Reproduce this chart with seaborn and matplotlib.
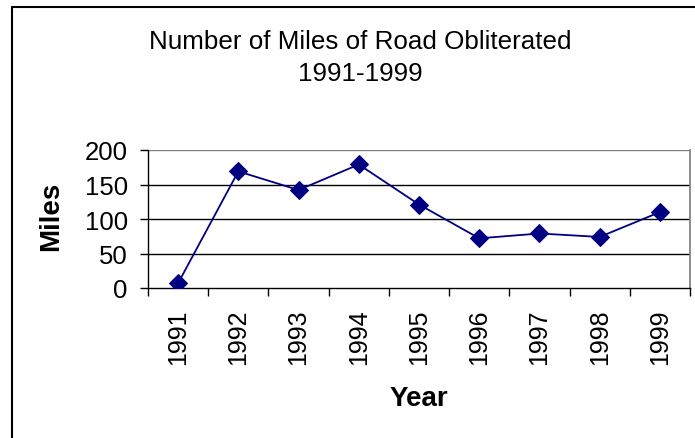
import matplotlib
matplotlib.use("Agg")
import matplotlib.pyplot as plt
import seaborn as sns
import pandas as pd
from matplotlib.ticker import FixedLocator, NullFormatter, FixedFormatter
from matplotlib.lines import Line2D

years = ["1991", "1992", "1993", "1994", "1995", "1996", "1997", "1998", "1999"]
miles = [7, 169, 142, 179, 121, 72, 79, 74, 110]
y_ticks = [0, 50, 100, 150, 200]

sns.set_theme(style="white")
plt.rcParams['font.family'] = ['Liberation Sans', 'DejaVu Sans']
plt.rcParams['text.color'] = 'black'
plt.rcParams['axes.labelcolor'] = 'black'
plt.rcParams['xtick.color'] = 'black'
plt.rcParams['ytick.color'] = 'black'

df = pd.DataFrame({"pos": list(range(len(years))), "Miles": miles, "Year": years})

fig = plt.figure(figsize=(6.95, 4.39), dpi=100)
ax = fig.add_axes([148/695, 1-289/439, (690-148)/695, (289-151)/439])

for v in y_ticks[1:]:
    ax.axhline(v, color="#808080" if v == 200 else "#000000", lw=1.0, zorder=1)

sns.lineplot(data=df, x="pos", y="Miles", ax=ax, color="#000080", lw=1.3,
             marker="D", markersize=9, markeredgecolor="#000080", zorder=3)

ax.set_xlim(-0.5, len(years) - 0.5)
ax.set_ylim(0, 200)
ax.set_yticks(y_ticks)
ax.tick_params(axis="y", labelsize=18.5, length=6, width=1, color="black",
               labelcolor="black", direction="out", pad=8.5, left=True)
ax.xaxis.set_major_locator(FixedLocator([i - 0.5 for i in range(len(years) + 1)]))
ax.xaxis.set_major_formatter(NullFormatter())
ax.xaxis.set_minor_locator(FixedLocator(list(range(len(years)))))
ax.xaxis.set_minor_formatter(FixedFormatter(years))
ax.tick_params(axis="x", which="major", length=6, width=1, color="black", direction="out", bottom=True)
ax.tick_params(axis="x", which="minor", length=0, labelsize=18, pad=15, labelrotation=90,
               labelcolor="black")

for s in ["left", "bottom"]:
    ax.spines[s].set_color("black")
    ax.spines[s].set_linewidth(1.0)
ax.spines["right"].set_visible(True)
ax.spines["right"].set_color("#808080")
ax.spines["top"].set_visible(False)

ax.set_xlabel("Year", fontsize=20, fontweight="bold", color="black")
ax.set_ylabel("Miles", fontsize=20, fontweight="bold", color="black")
ax.xaxis.set_label_coords(0.5, (289-386)/138)
ax.yaxis.set_label_coords((64-148)/542, (289-216.5)/138)

fig.text(360/695, 1-42/439, "Number of Miles of Road Obliterated", ha="center", va="center", fontsize=18.7)
fig.text(360/695, 1-74/439, "1991-1999", ha="center", va="center", fontsize=18.7)

# chart border (left and top visible)
fig.add_artist(Line2D([12/695, 12/695], [0, 1-8/439], transform=fig.transFigure, color="black", lw=1.5))
fig.add_artist(Line2D([12/695, 1], [1-8/439, 1-8/439], transform=fig.transFigure, color="black", lw=1.5))

fig.savefig("out.png", dpi=100)
